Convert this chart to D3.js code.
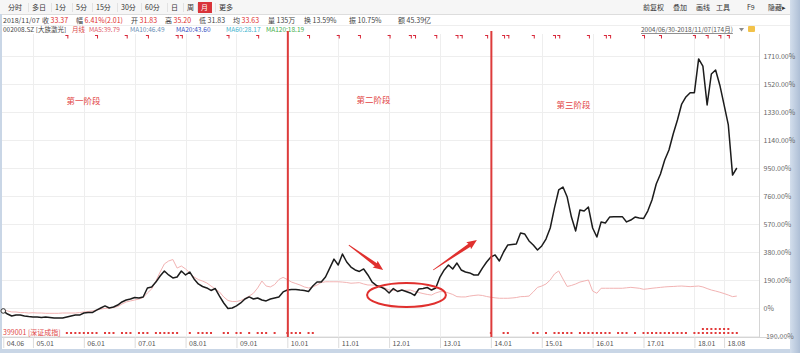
<!DOCTYPE html>
<html>
<head>
<meta charset="utf-8">
<script src="https://cdn.jsdelivr.net/npm/d3@7"></script>
<style>
    html, body { margin: 0; padding: 0; background: #fff; }
    svg { display: block; font-family: "Noto Sans CJK SC", "Noto Sans", sans-serif; }
</style>
</head>
<body>
<svg id="chart" width="800" height="353"></svg>
<script>
(function () {
    'use strict';

    // 002008.SZ 大族激光, monthly, cumulative change since 2004/06 (%)
    const stockPct = [
        -20, -41, -54, -48, -48, -54, -58, -61, -61, -64,
        -61, -64, -68, -68, -68, -61, -54, -48, -48, -34,
        -31, -31, -14, 0, 14, 0, 7, 20, 41, 54,
        61, 71, 68, 75, 136, 143, 176, 217, 251, 224,
        204, 210, 251, 224, 244, 197, 163, 146, 136, 119,
        132, 81, 34, -3, 0, 14, 34, 61, 75, 61,
        68, 54, 48, 61, 68, 75, 109, 122, 126, 126,
        122, 119, 112, 149, 176, 176, 210, 271, 332, 292,
        366, 312, 278, 258, 248, 265, 224, 176, 153, 143,
        129, 102, 132, 112, 122, 112, 102, 85, 129, 132,
        139, 122, 136, 210, 258, 292, 265, 305, 258, 244,
        238, 224, 224, 271, 312, 346, 360, 319, 380, 428,
        431, 434, 509, 502, 455, 428, 394, 421, 468, 543,
        679, 801, 821, 753, 617, 523, 665, 658, 685, 543,
        482, 584, 577, 617, 620, 620, 620, 584, 597, 617,
        611, 607, 658, 733, 841, 909, 1004, 1072, 1181, 1276,
        1384, 1432, 1461, 1461, 1690, 1642, 1378, 1588, 1615, 1512,
        1378, 1242, 902, 950
    ];

    // 399001 深证成指 overlay, same months (%)
    const indexPct = [
        -14, -20, -27, -27, -31, -31, -34, -32, -34, -34,
        -36, -36, -36, -36, -34, -34, -34, -34, -31, -27,
        -24, -20, -14, -7, -3, 0, 3, 10, 27, 41,
        48, 54, 61, 71, 102, 129, 183, 244, 299, 319,
        329, 271, 285, 265, 238, 210, 193, 183, 170, 149,
        129, 109, 75, 51, 44, 44, 51, 64, 81, 100,
        136, 183, 149, 143, 159, 193, 208, 193, 176, 166,
        156, 143, 136, 143, 156, 173, 178, 178, 178, 178,
        176, 173, 168, 170, 172, 163, 156, 156, 153, 145,
        136, 122, 119, 117, 119, 120, 122, 112, 105, 98,
        92, 88, 102, 111, 111, 102, 92, 77, 75, 75,
        81, 85, 88, 85, 78, 73, 69, 66, 66, 66,
        68, 71, 77, 78, 81, 109, 140, 149, 163, 190,
        231, 251, 197, 146, 153, 163, 176, 183, 190, 115,
        100, 134, 134, 134, 134, 134, 134, 137, 140, 137,
        134, 127, 130, 134, 137, 140, 143, 145, 146, 148,
        149, 147, 145, 147, 149, 143, 132, 122, 115, 107,
        98, 88, 77, 81
    ];

    const monthTicks = [0, 7, 19, 31, 43, 55, 67, 79, 91, 103, 115, 127, 139, 151, 163, 170];
    const monthLabels = ['04.06', '05.01', '06.01', '07.01', '08.01', '09.01', '10.01', '11.01',
        '12.01', '13.01', '14.01', '15.01', '16.01', '17.01', '18.01', '18.08'];
    const yTicks = [-190, 0, 190, 380, 570, 760, 950, 1140, 1330, 1520, 1710];

    // phase boundaries (month index) and labels
    const phaseBreaks = [67, 115];
    const phaseNames = ['第一阶段', '第二阶段', '第三阶段'];
    const phaseLabelAt = [[18.9, 1381], [87.3, 1391], [134.5, 1357]];

    // signal marks
    const topMarks = [15, 22, 29, 34, 41, 42, 46, 53, 60, 72, 79, 84, 91, 96, 97, 102, 107, 108,
        114, 118, 119, 125, 130, 131, 138, 142, 143, 151, 155, 163, 166, 169, 171];
    const bottomMarks = [15, 16, 17, 18, 19, 20, 21, 22, 24, 25, 26, 28, 29, 30, 32, 33, 34,
        36, 37, 38, 39, 40, 41, 44, 46, 47, 48, 49, 52, 53, 55, 56, 58, 60, 61, 62, 64,
        67, 68, 69, 70, 72, 73, 115, 118, 119, 125, 126, 128, 130, 131, 132, 133, 134,
        136, 137, 138, 139, 140, 141, 142, 143, 145, 146, 147, 149, 151, 152, 153, 154, 155,
        156, 157, 158, 159, 160, 161, 163, 164, 165, 166, 167, 168, 169, 170, 171, 172, 173];
    const bottomMarks2 = [165, 166, 167, 168, 169, 170, 171];

    // annotations in data space: arrows [from, to], ellipse centre + half sizes
    const arrows = [[[81.5, 427], [89.6, 258]], [[101.4, 258], [111.7, 461]]];
    const ring = {m: 95.1, v: 88, dm: 9.3, dv: 82};

    const toolbarItems = ['分时', '多日', '1分', '5分', '15分', '30分', '60分', '日', '周', '月', '更多'];
    const toolbarX = [8, 32, 55, 76, 96, 121, 145, 171, 187, 201, 219];
    const toolRight = ['前复权', '叠加', '画线', '工具', 'F9', '隐藏▸'];
    const toolRightX = [643, 673, 696, 716, 747, 768];

    const quoteRow = [
        ['', '2018/11/07', 3], ['收', '33.37', 42], ['幅', '6.41%(2.01)', 76], ['开', '31.83', 131],
        ['高', '35.20', 165], ['低', '31.83', 199], ['均', '33.63', 233], ['量', '135万', 268],
        ['换', '13.59%', 304], ['振', '10.75%', 349], ['额', '45.39亿', 398]
    ];
    const maRow = [
        ['002008.SZ [大族激光]', '#444', 3], ['月线', '#d94848', 72], ['MA5:39.79', '#e05a6a', 89],
        ['MA10:46.49', '#6a8fb5', 130], ['MA20:43.60', '#3553c4', 176], ['MA60:28.17', '#3fb5cf', 226],
        ['MA120:18.19', '#3fae4b', 266]
    ];

    const W = 800, H = 353;
    const plotTop = 34, plotBottom = 337, axisX = 759;
    const RED = '#e0302e';

    const svg = d3.select('#chart');

    const x = d3.scaleLinear().domain([0, stockPct.length - 1]).range([3.25, 736.8]);
    const y = d3.scaleLinear().domain([-190, 1710]).range([336, 56]);

    // background frame
    svg.append('rect').attr('width', W).attr('height', H).attr('fill', '#fff');
    svg.append('rect').attr('x', 0).attr('y', 0).attr('width', 790).attr('height', 14).attr('fill', '#f6f6f6');
    svg.append('line').attr('x1', 0).attr('x2', 790).attr('y1', 14.5).attr('y2', 14.5).attr('stroke', '#ddd');
    svg.append('line').attr('x1', 0).attr('x2', 790).attr('y1', 25.5).attr('y2', 25.5).attr('stroke', '#eee');
    svg.append('rect').attr('x', 0).attr('y', 14).attr('width', 2).attr('height', 339).attr('fill', '#c9d6e6');
    const grad = svg.append('defs').append('linearGradient').attr('id', 'rside');
    grad.append('stop').attr('offset', '0%').attr('stop-color', '#d3deec');
    grad.append('stop').attr('offset', '100%').attr('stop-color', '#aebfd6');
    svg.append('rect').attr('x', 790).attr('y', 0).attr('width', 10).attr('height', H).attr('fill', 'url(#rside)');
    svg.append('rect').attr('x', 0).attr('y', 349).attr('width', 790).attr('height', 4).attr('fill', '#c9d6e6');

    // toolbar
    const tb = svg.append('g').attr('font-size', '7px').attr('fill', '#333');
    svg.insert('rect', 'g').attr('x', 198).attr('y', 2).attr('width', 14).attr('height', 11).attr('fill', '#d9343a');
    tb.selectAll('text.tb').data(toolbarItems).join('text')
        .attr('class', 'tb')
        .attr('x', (d, i) => toolbarX[i]).attr('y', 10)
        .attr('fill', d => d === '月' ? '#fff' : '#333')
        .text(d => d);
    tb.selectAll('line.sep').data(toolbarX.slice(1)).join('line')
        .attr('class', 'sep')
        .attr('x1', d => d - 3.5).attr('x2', d => d - 3.5).attr('y1', 3).attr('y2', 12)
        .attr('stroke', '#e2e2e2');
    tb.selectAll('text.tr').data(toolRight).join('text')
        .attr('class', 'tr')
        .attr('x', (d, i) => toolRightX[i]).attr('y', 10)
        .text(d => d);

    // quote row
    const qr = svg.append('g').attr('font-size', '7px');
    quoteRow.forEach(([lab, val, px]) => {
        const t = qr.append('text').attr('x', px).attr('y', 22.5);
        if (lab) t.append('tspan').attr('fill', '#444').text(lab + ' ');
        const red = ['收', '幅', '开', '高', '均'].includes(lab);
        t.append('tspan').attr('fill', red ? '#e0302e' : '#444').text(val);
    });

    // MA row
    svg.append('g').attr('font-size', '6.5px').selectAll('text').data(maRow).join('text')
        .attr('x', d => d[2]).attr('y', 32)
        .attr('fill', d => d[1])
        .text(d => d[0]);
    svg.append('text').attr('x', 641).attr('y', 32).attr('font-size', '6.5px').attr('fill', '#555')
        .attr('text-decoration', 'underline').text('2004/06/30-2018/11/07(174月)');
    svg.append('path').attr('d', 'M739,28h5l-2.5,3.5z').attr('fill', '#8a8a8a');
    svg.append('rect').attr('x', 748).attr('y', 26).attr('width', 7).attr('height', 6).attr('rx', 1).attr('fill', '#f2c24a');

    // grid
    const grid = svg.append('g').attr('stroke', '#eeeeee').attr('stroke-width', 1);
    grid.selectAll('line.h').data(yTicks).join('line')
        .attr('class', 'h')
        .attr('x1', 2).attr('x2', axisX)
        .attr('y1', d => Math.round(y(d)) + 0.5).attr('y2', d => Math.round(y(d)) + 0.5);
    grid.selectAll('line.v').data(monthTicks.slice(1)).join('line')
        .attr('class', 'v')
        .attr('x1', d => Math.round(x(d)) + 0.5).attr('x2', d => Math.round(x(d)) + 0.5)
        .attr('y1', plotTop).attr('y2', plotBottom);

    // right axis
    const yAxis = svg.append('g').attr('transform', `translate(${axisX + 0.5},0)`)
        .call(d3.axisRight(y).tickValues(yTicks).tickSize(0).tickPadding(4)
            .tickFormat(d => d === 0 ? '0%' : d.toFixed(2) + '%'));
    yAxis.select('.domain').attr('stroke', '#d5d5d5').attr('d', `M0,${plotTop}V${plotBottom}`);
    yAxis.selectAll('text').attr('font-size', '7px').attr('fill', '#666')
        .attr('font-family', '"Noto Sans CJK SC", "Noto Sans", sans-serif');

    // bottom axis
    svg.append('line').attr('x1', 2).attr('x2', 790).attr('y1', plotBottom + 0.5).attr('y2', plotBottom + 0.5)
        .attr('stroke', '#d5d5d5');
    const xAxis = svg.append('g').attr('transform', `translate(0,${plotBottom})`)
        .call(d3.axisBottom(x).tickValues(monthTicks).tickSize(11)
            .tickFormat((d, i) => monthLabels[i]));
    xAxis.select('.domain').remove();
    xAxis.selectAll('line').attr('stroke', '#dcdcdc');
    xAxis.selectAll('text').attr('font-size', '7px').attr('fill', '#555')
        .attr('text-anchor', 'start').attr('dx', 3).attr('y', 8.5).attr('dy', 0)
        .attr('font-family', '"Noto Sans CJK SC", "Noto Sans", sans-serif');

    // lines
    const line = d3.line().x((d, i) => x(i)).y(d => y(d));
    svg.append('path').datum(indexPct).attr('d', line)
        .attr('fill', 'none').attr('stroke', '#f2b3b3').attr('stroke-width', 1);
    svg.append('path').datum(stockPct).attr('d', line)
        .attr('fill', 'none').attr('stroke', '#1c1c1c').attr('stroke-width', 1.5)
        .attr('stroke-linejoin', 'round');
    svg.append('circle').attr('cx', x(0)).attr('cy', y(stockPct[0])).attr('r', 2.3)
        .attr('fill', '#fff').attr('stroke', '#333').attr('stroke-width', 1);

    // signal marks
    const marks = svg.append('g').attr('stroke', '#d8283a').attr('stroke-width', 1).attr('fill', 'none');
    marks.selectAll('path').data(topMarks).join('path')
        .attr('d', d => `M${x(d) - 1.5},35.5h3M${x(d) + 1},35.5v3`);
    svg.append('g').attr('fill', '#e23a3a').selectAll('rect')
        .data(bottomMarks.map(m => [m, 333]).concat(bottomMarks2.map(m => [m, 329])))
        .join('rect')
        .attr('x', d => x(d[0]) - 1).attr('y', d => d[1] - 1).attr('width', 2).attr('height', 2);
    svg.append('text').attr('x', 3).attr('y', 335).attr('font-size', '7px').attr('fill', '#e04848')
        .text('399001 [深证成指]');

    // phase separators
    svg.append('g').selectAll('line').data(phaseBreaks).join('line')
        .attr('x1', d => x(d) + 0.5).attr('x2', d => x(d) + 0.5)
        .attr('y1', 31).attr('y2', plotBottom)
        .attr('stroke', '#dd3b3b').attr('stroke-width', 2);

    svg.append('g').attr('font-size', '8.5px').attr('fill', '#e24444').attr('text-anchor', 'middle')
        .selectAll('text').data(phaseNames).join('text')
        .attr('x', (d, i) => x(phaseLabelAt[i][0]))
        .attr('y', (d, i) => y(phaseLabelAt[i][1]))
        .text(d => d);

    // arrows
    function arrowPath([[m0, v0], [m1, v1]]) {
        const x0 = x(m0), y0 = y(v0), x1 = x(m1), y1 = y(v1);
        const L = Math.hypot(x1 - x0, y1 - y0);
        const ux = (x1 - x0) / L, uy = (y1 - y0) / L, nx = -uy, ny = ux;
        const p = (a, b) => [x0 + ux * a + nx * b, y0 + uy * a + ny * b];
        const pts = [p(0, 0.4), p(L - 9, 1.8), p(L - 10, 4.2), p(L, 0), p(L - 10, -4.2), p(L - 9, -1.8), p(0, -0.4)];
        return 'M' + pts.map(q => q.join(',')).join('L') + 'Z';
    }
    svg.append('g').attr('fill', RED).selectAll('path').data(arrows).join('path')
        .attr('d', arrowPath);

    svg.append('ellipse')
        .attr('cx', x(ring.m)).attr('cy', y(ring.v))
        .attr('rx', x(ring.m + ring.dm) - x(ring.m))
        .attr('ry', y(ring.v - ring.dv) - y(ring.v))
        .attr('fill', 'none').attr('stroke', RED).attr('stroke-width', 2);
})();
</script>
</body>
</html>
